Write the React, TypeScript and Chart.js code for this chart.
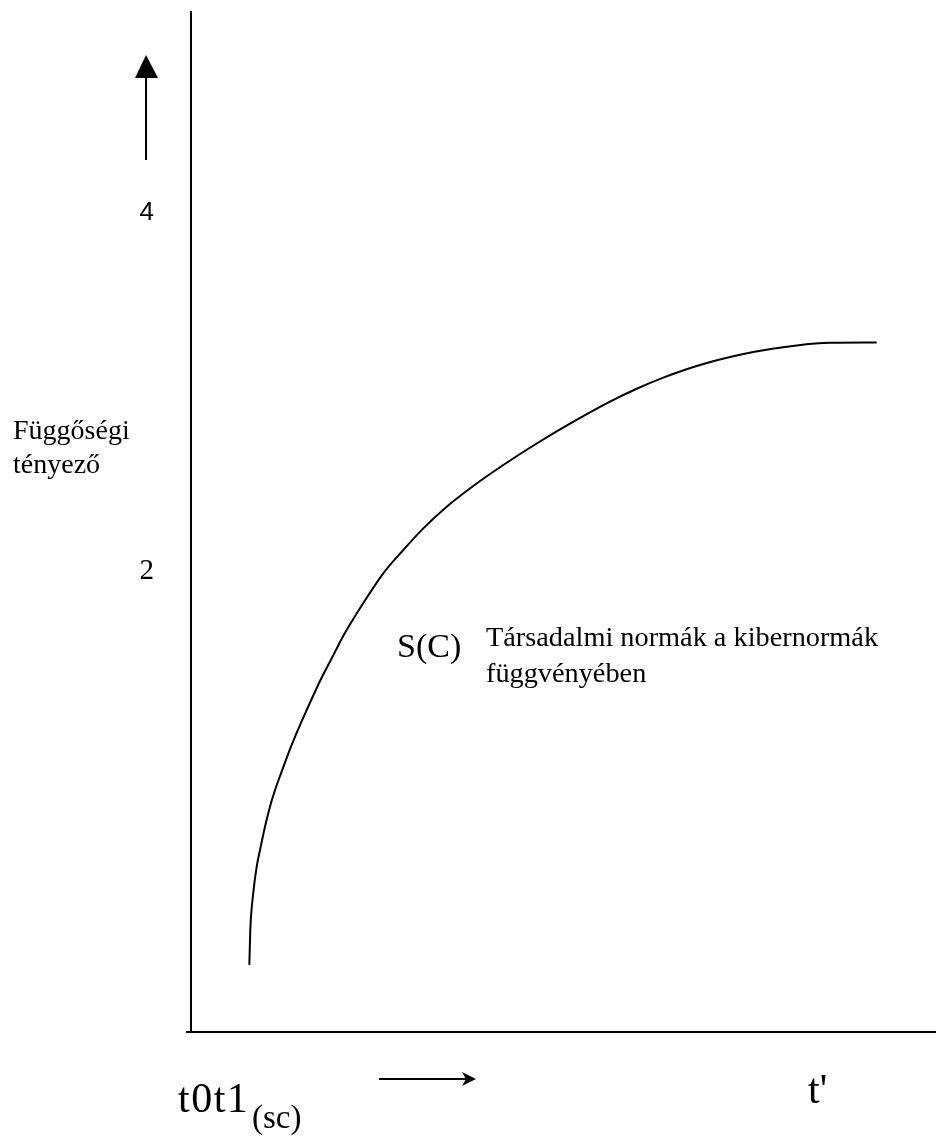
import React, { useEffect, useRef } from 'react';
import { Chart, registerables } from 'chart.js';

Chart.register(...registerables);

// Curve S(C): x in arbitrary time units, y = dependency factor
const curveX = [0.783, 0.796, 0.836, 0.882, 0.936, 0.993, 1.06, 1.128, 1.217, 1.329, 1.463, 1.553, 1.732, 1.889, 2.044, 2.313, 2.581, 2.85, 3.118, 3.432, 3.789, 4.192, 4.64, 5.087, 5.624, 5.983, 6.34, 6.877, 7.548, 8.13, 8.577, 9.204];
const curveY = [-0.212, -0.017, 0.19, 0.337, 0.449, 0.56, 0.672, 0.765, 0.868, 0.994, 1.128, 1.212, 1.374, 1.501, 1.626, 1.81, 1.976, 2.106, 2.227, 2.348, 2.464, 2.581, 2.701, 2.812, 2.935, 3.007, 3.069, 3.145, 3.212, 3.249, 3.264, 3.266];

const yTickValues = [2, 4];
const yTickLabels = ['2', '4'];
const yAxisTitleLines = ['Függőségi', 'tényező'];
const curveName = 'S(C)';
const curveCaption = ['Társadalmi normák a kibernormák', 'függvényében'];
const xStartLabel = 't0t1';
const xStartSub = '(sc)';
const xEndLabel = "t'";

const X_MIN = 0;
const X_MAX = 10;
const Y_MIN = -0.587;
const Y_MAX = 5.112;

const SERIF = '"Liberation Serif", "Times New Roman", serif';
const SANS = '"Liberation Sans", Arial, sans-serif';

const decorPlugin = {
  id: 'decor',
  afterDraw(chart: any) {
    const ctx = chart.ctx as CanvasRenderingContext2D;
    const area = chart.chartArea;
    ctx.save();
    ctx.fillStyle = '#000';
    ctx.strokeStyle = '#000';
    ctx.lineWidth = 2;

    // small overhang of x axis to the left of y axis
    ctx.beginPath();
    ctx.moveTo(area.left - 5, area.bottom);
    ctx.lineTo(area.left, area.bottom);
    ctx.stroke();

    // up arrow
    ctx.beginPath();
    ctx.moveTo(146, 160);
    ctx.lineTo(146, 76);
    ctx.stroke();
    ctx.beginPath();
    ctx.moveTo(146, 55);
    ctx.lineTo(135, 78);
    ctx.lineTo(158, 78);
    ctx.closePath();
    ctx.fill();

    // right arrow
    ctx.beginPath();
    ctx.moveTo(379, 1079);
    ctx.lineTo(468, 1079);
    ctx.stroke();
    ctx.beginPath();
    ctx.moveTo(476, 1079);
    ctx.lineTo(462, 1072);
    ctx.lineTo(466, 1079);
    ctx.lineTo(462, 1086);
    ctx.closePath();
    ctx.fill();

    ctx.textAlign = 'left';
    ctx.textBaseline = 'alphabetic';

    // y axis title
    ctx.font = `28px ${SERIF}`;
    ctx.fillText(yAxisTitleLines[0], 13, 439);
    ctx.fillText(yAxisTitleLines[1], 13, 473);

    // curve label
    ctx.font = `34px ${SERIF}`;
    ctx.fillText(curveName, 397, 657);
    ctx.font = `28.3px ${SERIF}`;
    ctx.fillText(curveCaption[0], 486, 646);
    ctx.fillText(curveCaption[1], 486, 682);

    // x labels
    ctx.font = `42px ${SERIF}`;
    (ctx as any).letterSpacing = '1.5px';
    ctx.fillText(xStartLabel, 178, 1112);
    (ctx as any).letterSpacing = '0px';
    ctx.font = `33px ${SERIF}`;
    ctx.fillText(xStartSub, 252, 1128);
    ctx.font = `42px ${SERIF}`;
    ctx.fillText(xEndLabel, 808, 1103);

    ctx.restore();
  },
};

export default function App() {
  const ref = useRef<HTMLCanvasElement | null>(null);

  useEffect(() => {
    if (!ref.current) return;
    const chart = new Chart(ref.current, {
      type: 'line',
      data: {
        datasets: [
          {
            data: curveX.map((x, i) => ({ x, y: curveY[i] })),
            borderColor: '#000',
            borderWidth: 2,
            pointRadius: 0,
            fill: false,
            cubicInterpolationMode: 'monotone',
          },
        ],
      },
      options: {
        responsive: false,
        animation: false,
        events: [],
        layout: { padding: { top: 12, left: 0, right: 0, bottom: 0 } },
        plugins: {
          legend: { display: false },
          tooltip: { enabled: false },
          title: { display: false },
        },
        scales: {
          x: {
            type: 'linear',
            min: X_MIN,
            max: X_MAX,
            grid: { display: false, drawTicks: false },
            border: { display: true, color: '#000', width: 2 },
            ticks: { display: false },
            afterFit: (s: any) => {
              s.height = 106;
            },
          },
          y: {
            type: 'linear',
            min: Y_MIN,
            max: Y_MAX,
            grid: { display: false, drawTicks: false },
            border: { display: true, color: '#000', width: 2 },
            afterBuildTicks: (s: any) => {
              s.ticks = yTickValues.map((v) => ({ value: v }));
            },
            ticks: {
              padding: 37,
              labelOffset: 2,
              color: '#000',
              callback: (v: any) => {
                const i = yTickValues.indexOf(Number(v));
                return i >= 0 ? yTickLabels[i] : '';
              },
              font: (c: any) =>
                c.tick && c.tick.value === 4
                  ? { family: SANS, size: 26 }
                  : { family: SERIF, size: 29 },
            },
            afterFit: (s: any) => {
              s.width = 191;
              s.paddingTop = 0;
              s.paddingBottom = 0;
            },
          },
        },
      },
      plugins: [decorPlugin],
    } as any);
    return () => chart.destroy();
  }, []);

  return (
    <div style={{ position: 'fixed', left: 0, top: 0, width: 936, height: 1138, background: '#fff' }}>
      <canvas ref={ref} width={936} height={1138} style={{ display: 'block' }} />
    </div>
  );
}
